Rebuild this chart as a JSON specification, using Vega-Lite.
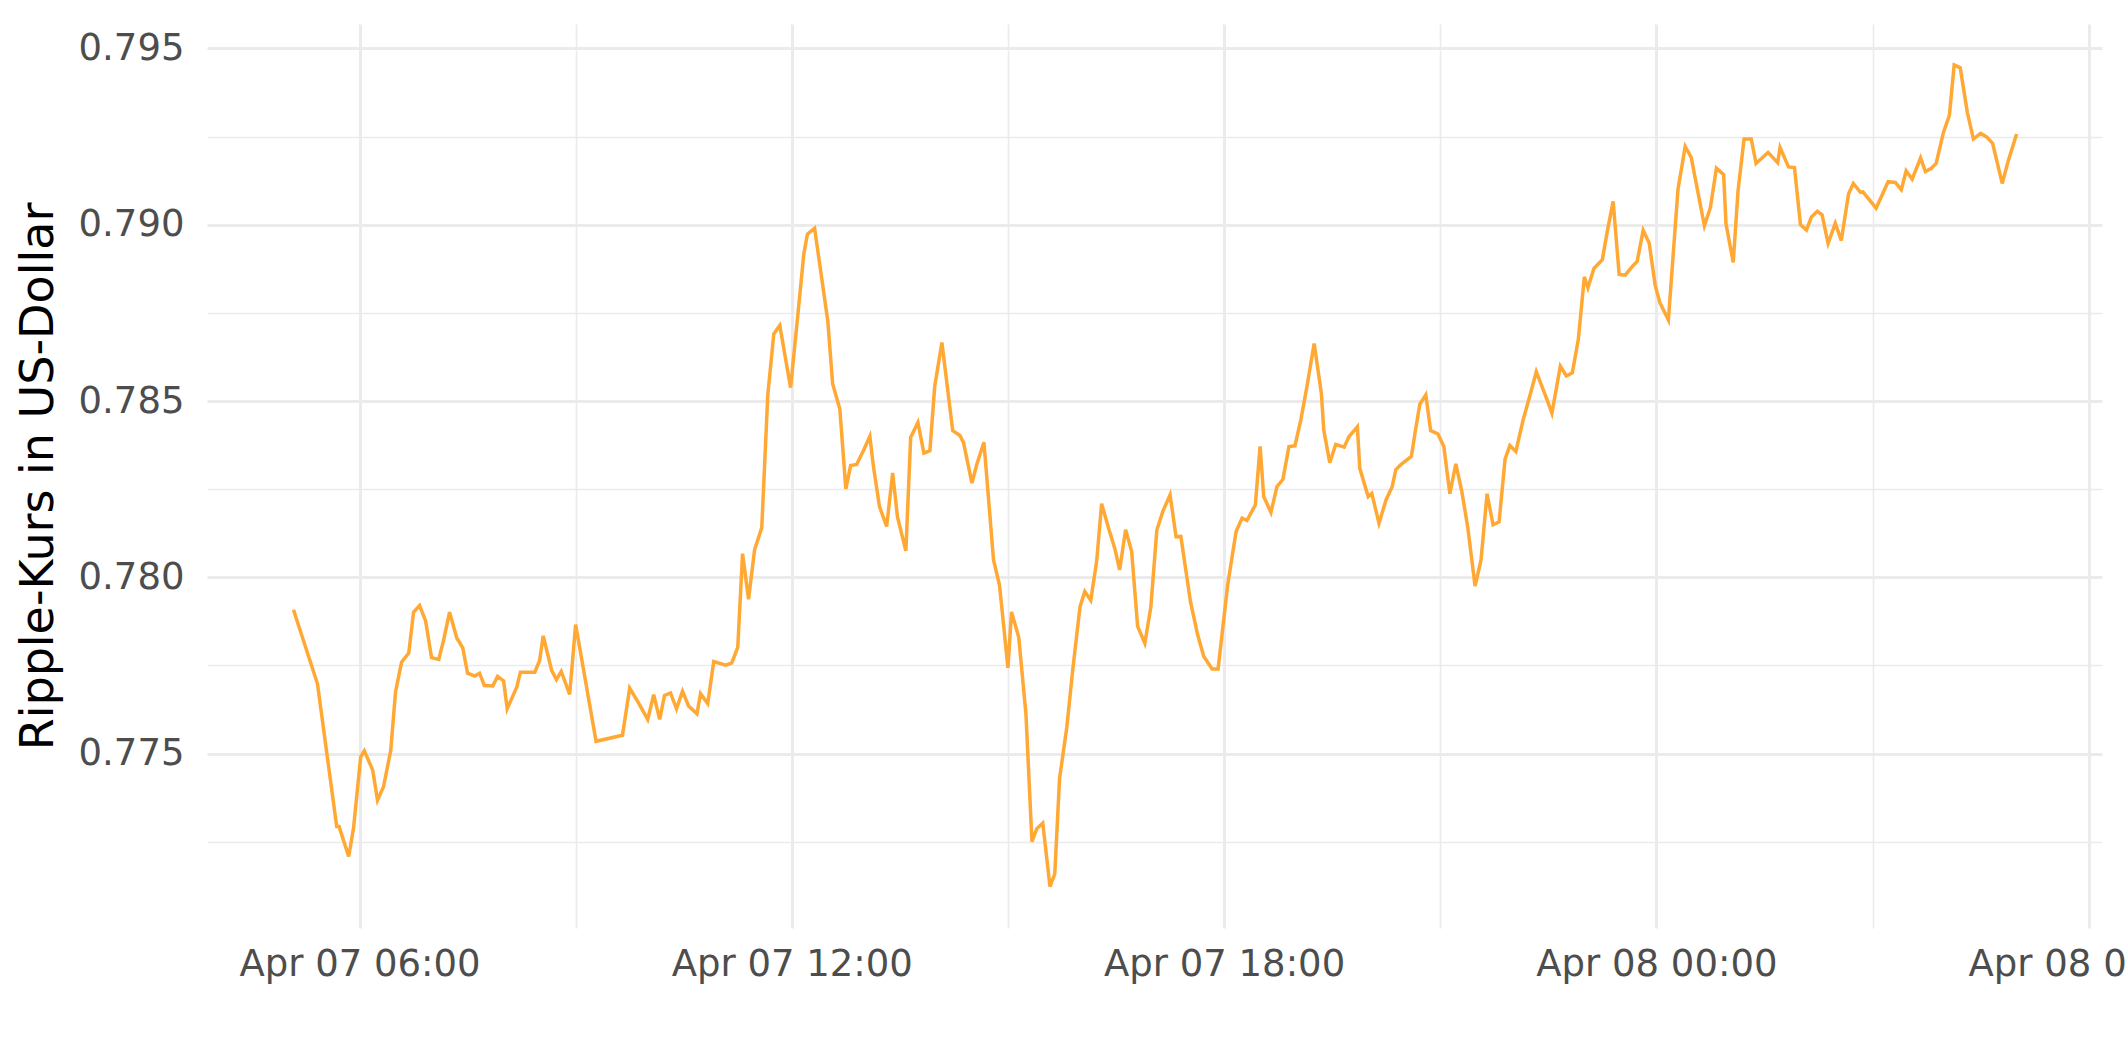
{
  "$schema": "https://vega.github.io/schema/vega-lite/v6.json",
  "autosize": {"type": "none"},
  "width": 1895,
  "height": 904,
  "padding": {"left": 207, "top": 24, "right": 23, "bottom": 134},
  "background": "white",
  "config": {
    "view": {"stroke": null},
    "font": "DejaVu Sans"
  },
  "data": {
    "values": [
      {"t": "2021-04-07T05:05", "p": 0.77908},
      {"t": "2021-04-07T05:25", "p": 0.77698},
      {"t": "2021-04-07T05:41", "p": 0.77293},
      {"t": "2021-04-07T05:43", "p": 0.77293},
      {"t": "2021-04-07T05:51", "p": 0.77208},
      {"t": "2021-04-07T05:55", "p": 0.77288},
      {"t": "2021-04-07T06:01", "p": 0.77491},
      {"t": "2021-04-07T06:04", "p": 0.77508},
      {"t": "2021-04-07T06:11", "p": 0.77453},
      {"t": "2021-04-07T06:15", "p": 0.77368},
      {"t": "2021-04-07T06:20", "p": 0.77406},
      {"t": "2021-04-07T06:26", "p": 0.77509},
      {"t": "2021-04-07T06:30", "p": 0.77675},
      {"t": "2021-04-07T06:35", "p": 0.77759},
      {"t": "2021-04-07T06:41", "p": 0.77785},
      {"t": "2021-04-07T06:45", "p": 0.77901},
      {"t": "2021-04-07T06:50", "p": 0.77920},
      {"t": "2021-04-07T06:55", "p": 0.77877},
      {"t": "2021-04-07T07:00", "p": 0.77772},
      {"t": "2021-04-07T07:06", "p": 0.77767},
      {"t": "2021-04-07T07:10", "p": 0.77821},
      {"t": "2021-04-07T07:15", "p": 0.77901},
      {"t": "2021-04-07T07:21", "p": 0.77828},
      {"t": "2021-04-07T07:26", "p": 0.77800},
      {"t": "2021-04-07T07:30", "p": 0.77728},
      {"t": "2021-04-07T07:36", "p": 0.77720},
      {"t": "2021-04-07T07:40", "p": 0.77728},
      {"t": "2021-04-07T07:44", "p": 0.77693},
      {"t": "2021-04-07T07:51", "p": 0.77692},
      {"t": "2021-04-07T07:55", "p": 0.77719},
      {"t": "2021-04-07T08:00", "p": 0.77706},
      {"t": "2021-04-07T08:03", "p": 0.77627},
      {"t": "2021-04-07T08:11", "p": 0.77689},
      {"t": "2021-04-07T08:14", "p": 0.77731},
      {"t": "2021-04-07T08:26", "p": 0.77731},
      {"t": "2021-04-07T08:30", "p": 0.77764},
      {"t": "2021-04-07T08:33", "p": 0.77834},
      {"t": "2021-04-07T08:40", "p": 0.77736},
      {"t": "2021-04-07T08:44", "p": 0.77710},
      {"t": "2021-04-07T08:48", "p": 0.77733},
      {"t": "2021-04-07T08:55", "p": 0.77668},
      {"t": "2021-04-07T09:00", "p": 0.77866},
      {"t": "2021-04-07T09:17", "p": 0.77535},
      {"t": "2021-04-07T09:39", "p": 0.77552},
      {"t": "2021-04-07T09:45", "p": 0.77686},
      {"t": "2021-04-07T09:52", "p": 0.77646},
      {"t": "2021-04-07T10:00", "p": 0.77597},
      {"t": "2021-04-07T10:05", "p": 0.77667},
      {"t": "2021-04-07T10:10", "p": 0.77597},
      {"t": "2021-04-07T10:14", "p": 0.77665},
      {"t": "2021-04-07T10:19", "p": 0.77672},
      {"t": "2021-04-07T10:24", "p": 0.77627},
      {"t": "2021-04-07T10:29", "p": 0.77677},
      {"t": "2021-04-07T10:34", "p": 0.77635},
      {"t": "2021-04-07T10:41", "p": 0.77613},
      {"t": "2021-04-07T10:44", "p": 0.77670},
      {"t": "2021-04-07T10:50", "p": 0.77642},
      {"t": "2021-04-07T10:55", "p": 0.77761},
      {"t": "2021-04-07T11:05", "p": 0.77751},
      {"t": "2021-04-07T11:10", "p": 0.77757},
      {"t": "2021-04-07T11:15", "p": 0.77801},
      {"t": "2021-04-07T11:19", "p": 0.78067},
      {"t": "2021-04-07T11:24", "p": 0.77938},
      {"t": "2021-04-07T11:29", "p": 0.78078},
      {"t": "2021-04-07T11:35", "p": 0.78141},
      {"t": "2021-04-07T11:40", "p": 0.78517},
      {"t": "2021-04-07T11:45", "p": 0.78690},
      {"t": "2021-04-07T11:50", "p": 0.78714},
      {"t": "2021-04-07T11:59", "p": 0.78538},
      {"t": "2021-04-07T12:05", "p": 0.78743},
      {"t": "2021-04-07T12:10", "p": 0.78917},
      {"t": "2021-04-07T12:13", "p": 0.78973},
      {"t": "2021-04-07T12:19", "p": 0.78990},
      {"t": "2021-04-07T12:30", "p": 0.78726},
      {"t": "2021-04-07T12:34", "p": 0.78549},
      {"t": "2021-04-07T12:40", "p": 0.78477},
      {"t": "2021-04-07T12:45", "p": 0.78251},
      {"t": "2021-04-07T12:49", "p": 0.78317},
      {"t": "2021-04-07T12:54", "p": 0.78320},
      {"t": "2021-04-07T13:00", "p": 0.78362},
      {"t": "2021-04-07T13:05", "p": 0.78400},
      {"t": "2021-04-07T13:08", "p": 0.78314},
      {"t": "2021-04-07T13:13", "p": 0.78201},
      {"t": "2021-04-07T13:19", "p": 0.78144},
      {"t": "2021-04-07T13:24", "p": 0.78296},
      {"t": "2021-04-07T13:28", "p": 0.78171},
      {"t": "2021-04-07T13:35", "p": 0.78075},
      {"t": "2021-04-07T13:39", "p": 0.78397},
      {"t": "2021-04-07T13:45", "p": 0.78439},
      {"t": "2021-04-07T13:50", "p": 0.78352},
      {"t": "2021-04-07T13:55", "p": 0.78359},
      {"t": "2021-04-07T13:59", "p": 0.78541},
      {"t": "2021-04-07T14:05", "p": 0.78666},
      {"t": "2021-04-07T14:14", "p": 0.78416},
      {"t": "2021-04-07T14:20", "p": 0.78402},
      {"t": "2021-04-07T14:23", "p": 0.78382},
      {"t": "2021-04-07T14:30", "p": 0.78267},
      {"t": "2021-04-07T14:34", "p": 0.78319},
      {"t": "2021-04-07T14:40", "p": 0.78383},
      {"t": "2021-04-07T14:48", "p": 0.78049},
      {"t": "2021-04-07T14:53", "p": 0.77977},
      {"t": "2021-04-07T15:00", "p": 0.77743},
      {"t": "2021-04-07T15:03", "p": 0.77902},
      {"t": "2021-04-07T15:09", "p": 0.77830},
      {"t": "2021-04-07T15:15", "p": 0.77612},
      {"t": "2021-04-07T15:20", "p": 0.77250},
      {"t": "2021-04-07T15:24", "p": 0.77287},
      {"t": "2021-04-07T15:29", "p": 0.77303},
      {"t": "2021-04-07T15:35", "p": 0.77123},
      {"t": "2021-04-07T15:39", "p": 0.77159},
      {"t": "2021-04-07T15:43", "p": 0.77430},
      {"t": "2021-04-07T15:49", "p": 0.77574},
      {"t": "2021-04-07T15:54", "p": 0.77739},
      {"t": "2021-04-07T16:00", "p": 0.77916},
      {"t": "2021-04-07T16:04", "p": 0.77960},
      {"t": "2021-04-07T16:09", "p": 0.77935},
      {"t": "2021-04-07T16:14", "p": 0.78049},
      {"t": "2021-04-07T16:18", "p": 0.78209},
      {"t": "2021-04-07T16:24", "p": 0.78137},
      {"t": "2021-04-07T16:29", "p": 0.78082},
      {"t": "2021-04-07T16:33", "p": 0.78021},
      {"t": "2021-04-07T16:38", "p": 0.78135},
      {"t": "2021-04-07T16:43", "p": 0.78074},
      {"t": "2021-04-07T16:48", "p": 0.77861},
      {"t": "2021-04-07T16:54", "p": 0.77813},
      {"t": "2021-04-07T16:59", "p": 0.77916},
      {"t": "2021-04-07T17:04", "p": 0.78134},
      {"t": "2021-04-07T17:09", "p": 0.78187},
      {"t": "2021-04-07T17:15", "p": 0.78234},
      {"t": "2021-04-07T17:20", "p": 0.78115},
      {"t": "2021-04-07T17:24", "p": 0.78116},
      {"t": "2021-04-07T17:32", "p": 0.77931},
      {"t": "2021-04-07T17:38", "p": 0.77837},
      {"t": "2021-04-07T17:43", "p": 0.77776},
      {"t": "2021-04-07T17:50", "p": 0.77740},
      {"t": "2021-04-07T17:55", "p": 0.77740},
      {"t": "2021-04-07T18:03", "p": 0.77979},
      {"t": "2021-04-07T18:10", "p": 0.78130},
      {"t": "2021-04-07T18:15", "p": 0.78168},
      {"t": "2021-04-07T18:19", "p": 0.78161},
      {"t": "2021-04-07T18:26", "p": 0.78205},
      {"t": "2021-04-07T18:30", "p": 0.78371},
      {"t": "2021-04-07T18:33", "p": 0.78229},
      {"t": "2021-04-07T18:39", "p": 0.78184},
      {"t": "2021-04-07T18:44", "p": 0.78257},
      {"t": "2021-04-07T18:49", "p": 0.78278},
      {"t": "2021-04-07T18:54", "p": 0.78371},
      {"t": "2021-04-07T18:59", "p": 0.78373},
      {"t": "2021-04-07T19:04", "p": 0.78448},
      {"t": "2021-04-07T19:09", "p": 0.78541},
      {"t": "2021-04-07T19:15", "p": 0.78663},
      {"t": "2021-04-07T19:21", "p": 0.78522},
      {"t": "2021-04-07T19:23", "p": 0.78418},
      {"t": "2021-04-07T19:28", "p": 0.78325},
      {"t": "2021-04-07T19:33", "p": 0.78377},
      {"t": "2021-04-07T19:40", "p": 0.78369},
      {"t": "2021-04-07T19:44", "p": 0.78399},
      {"t": "2021-04-07T19:51", "p": 0.78427},
      {"t": "2021-04-07T19:53", "p": 0.78309},
      {"t": "2021-04-07T20:00", "p": 0.78229},
      {"t": "2021-04-07T20:03", "p": 0.78238},
      {"t": "2021-04-07T20:09", "p": 0.78153},
      {"t": "2021-04-07T20:15", "p": 0.78221},
      {"t": "2021-04-07T20:20", "p": 0.78257},
      {"t": "2021-04-07T20:23", "p": 0.78305},
      {"t": "2021-04-07T20:27", "p": 0.78319},
      {"t": "2021-04-07T20:36", "p": 0.78343},
      {"t": "2021-04-07T20:39", "p": 0.78409},
      {"t": "2021-04-07T20:43", "p": 0.78491},
      {"t": "2021-04-07T20:48", "p": 0.78517},
      {"t": "2021-04-07T20:52", "p": 0.78416},
      {"t": "2021-04-07T20:58", "p": 0.78407},
      {"t": "2021-04-07T21:03", "p": 0.78371},
      {"t": "2021-04-07T21:08", "p": 0.78237},
      {"t": "2021-04-07T21:13", "p": 0.78322},
      {"t": "2021-04-07T21:18", "p": 0.78243},
      {"t": "2021-04-07T21:23", "p": 0.78140},
      {"t": "2021-04-07T21:29", "p": 0.77975},
      {"t": "2021-04-07T21:34", "p": 0.78050},
      {"t": "2021-04-07T21:39", "p": 0.78237},
      {"t": "2021-04-07T21:44", "p": 0.78149},
      {"t": "2021-04-07T21:49", "p": 0.78157},
      {"t": "2021-04-07T21:54", "p": 0.78335},
      {"t": "2021-04-07T21:58", "p": 0.78374},
      {"t": "2021-04-07T22:03", "p": 0.78357},
      {"t": "2021-04-07T22:09", "p": 0.78446},
      {"t": "2021-04-07T22:15", "p": 0.78519},
      {"t": "2021-04-07T22:20", "p": 0.78583},
      {"t": "2021-04-07T22:29", "p": 0.78503},
      {"t": "2021-04-07T22:33", "p": 0.78465},
      {"t": "2021-04-07T22:40", "p": 0.78599},
      {"t": "2021-04-07T22:45", "p": 0.78571},
      {"t": "2021-04-07T22:50", "p": 0.78580},
      {"t": "2021-04-07T22:55", "p": 0.78675},
      {"t": "2021-04-07T23:00", "p": 0.78852},
      {"t": "2021-04-07T23:03", "p": 0.78821},
      {"t": "2021-04-07T23:08", "p": 0.78876},
      {"t": "2021-04-07T23:15", "p": 0.78901},
      {"t": "2021-04-07T23:19", "p": 0.78979},
      {"t": "2021-04-07T23:24", "p": 0.79066},
      {"t": "2021-04-07T23:29", "p": 0.78859},
      {"t": "2021-04-07T23:34", "p": 0.78857},
      {"t": "2021-04-07T23:40", "p": 0.78882},
      {"t": "2021-04-07T23:44", "p": 0.78896},
      {"t": "2021-04-07T23:49", "p": 0.78984},
      {"t": "2021-04-07T23:54", "p": 0.78948},
      {"t": "2021-04-07T23:59", "p": 0.78828},
      {"t": "2021-04-08T00:03", "p": 0.78778},
      {"t": "2021-04-08T00:10", "p": 0.78730},
      {"t": "2021-04-08T00:18", "p": 0.79101},
      {"t": "2021-04-08T00:24", "p": 0.79222},
      {"t": "2021-04-08T00:29", "p": 0.79191},
      {"t": "2021-04-08T00:40", "p": 0.78997},
      {"t": "2021-04-08T00:45", "p": 0.79049},
      {"t": "2021-04-08T00:50", "p": 0.79160},
      {"t": "2021-04-08T00:56", "p": 0.79142},
      {"t": "2021-04-08T00:58", "p": 0.79002},
      {"t": "2021-04-08T01:04", "p": 0.78893},
      {"t": "2021-04-08T01:08", "p": 0.79096},
      {"t": "2021-04-08T01:13", "p": 0.79243},
      {"t": "2021-04-08T01:19", "p": 0.79243},
      {"t": "2021-04-08T01:23", "p": 0.79174},
      {"t": "2021-04-08T01:28", "p": 0.79189},
      {"t": "2021-04-08T01:33", "p": 0.79205},
      {"t": "2021-04-08T01:41", "p": 0.79176},
      {"t": "2021-04-08T01:43", "p": 0.79219},
      {"t": "2021-04-08T01:50", "p": 0.79164},
      {"t": "2021-04-08T01:55", "p": 0.79162},
      {"t": "2021-04-08T02:00", "p": 0.79000},
      {"t": "2021-04-08T02:05", "p": 0.78985},
      {"t": "2021-04-08T02:09", "p": 0.79021},
      {"t": "2021-04-08T02:14", "p": 0.79038},
      {"t": "2021-04-08T02:18", "p": 0.79028},
      {"t": "2021-04-08T02:23", "p": 0.78947},
      {"t": "2021-04-08T02:29", "p": 0.79004},
      {"t": "2021-04-08T02:34", "p": 0.78955},
      {"t": "2021-04-08T02:40", "p": 0.79087},
      {"t": "2021-04-08T02:44", "p": 0.79117},
      {"t": "2021-04-08T02:50", "p": 0.79092},
      {"t": "2021-04-08T02:52", "p": 0.79093},
      {"t": "2021-04-08T03:03", "p": 0.79047},
      {"t": "2021-04-08T03:13", "p": 0.79122},
      {"t": "2021-04-08T03:19", "p": 0.79120},
      {"t": "2021-04-08T03:24", "p": 0.79099},
      {"t": "2021-04-08T03:28", "p": 0.79153},
      {"t": "2021-04-08T03:33", "p": 0.79129},
      {"t": "2021-04-08T03:40", "p": 0.79189},
      {"t": "2021-04-08T03:44", "p": 0.79151},
      {"t": "2021-04-08T03:49", "p": 0.79160},
      {"t": "2021-04-08T03:53", "p": 0.79174},
      {"t": "2021-04-08T03:59", "p": 0.79261},
      {"t": "2021-04-08T04:04", "p": 0.79310},
      {"t": "2021-04-08T04:08", "p": 0.79453},
      {"t": "2021-04-08T04:13", "p": 0.79445},
      {"t": "2021-04-08T04:19", "p": 0.79318},
      {"t": "2021-04-08T04:24", "p": 0.79243},
      {"t": "2021-04-08T04:30", "p": 0.79259},
      {"t": "2021-04-08T04:35", "p": 0.79249},
      {"t": "2021-04-08T04:40", "p": 0.79231},
      {"t": "2021-04-08T04:48", "p": 0.79117},
      {"t": "2021-04-08T04:53", "p": 0.79181},
      {"t": "2021-04-08T05:00", "p": 0.79257}
    ]
  },
  "mark": {"type": "line", "color": "#FFA834", "strokeWidth": 3.5, "clip": true},
  "encoding": {
    "x": {
      "field": "t",
      "type": "temporal",
      "scale": {
        "nice": false,
        "domain": [
          {"year": 2021, "month": 4, "date": 7, "hours": 3, "minutes": 53, "seconds": 0},
          {"year": 2021, "month": 4, "date": 8, "hours": 6, "minutes": 11, "seconds": 6}
        ]
      },
      "axis": {
        "title": null,
        "values": [
          {"year": 2021, "month": 4, "date": 7, "hours": 6},
          {"year": 2021, "month": 4, "date": 7, "hours": 9},
          {"year": 2021, "month": 4, "date": 7, "hours": 12},
          {"year": 2021, "month": 4, "date": 7, "hours": 15},
          {"year": 2021, "month": 4, "date": 7, "hours": 18},
          {"year": 2021, "month": 4, "date": 7, "hours": 21},
          {"year": 2021, "month": 4, "date": 8, "hours": 0},
          {"year": 2021, "month": 4, "date": 8, "hours": 3},
          {"year": 2021, "month": 4, "date": 8, "hours": 6}
        ],
        "labelExpr": "hours(datum.value) % 6 === 0 ? timeFormat(datum.value, '%b %d %H:%M') : ''",
        "domain": false,
        "ticks": false,
        "grid": true,
        "gridColor": "#EBEBEB",
        "gridWidth": {"condition": {"test": "hours(datum.value) % 6 === 0", "value": 3}, "value": 1.6},
        "labelFont": "DejaVu Sans",
        "labelFontSize": 37,
        "labelColor": "#4D4D4D",
        "labelPadding": 18,
        "labelLimit": 0,
        "labelFlush": false,
        "labelOverlap": false,
        "labelBound": false
      }
    },
    "y": {
      "field": "p",
      "type": "quantitative",
      "scale": {"nice": false, "zero": false, "domain": [0.770054, 0.795692]},
      "axis": {
        "title": "Ripple-Kurs in US-Dollar",
        "values": [0.7725, 0.775, 0.7775, 0.78, 0.7825, 0.785, 0.7875, 0.79, 0.7925, 0.795],
        "labelExpr": "round(datum.value * 1000) % 5 === 0 ? format(datum.value, '.3f') : ''",
        "domain": false,
        "ticks": false,
        "grid": true,
        "gridColor": "#EBEBEB",
        "gridWidth": {"condition": {"test": "round(datum.value * 1000) % 5 === 0", "value": 3}, "value": 1.6},
        "labelFont": "DejaVu Sans",
        "labelFontSize": 37,
        "labelColor": "#4D4D4D",
        "labelPadding": 23,
        "labelLimit": 0,
        "labelOverlap": false,
        "labelBound": false,
        "labelFlush": false,
        "titleFont": "DejaVu Sans",
        "titleFontSize": 46,
        "titleFontWeight": "normal",
        "titleColor": "#000000",
        "titlePadding": 16
      }
    }
  }
}
